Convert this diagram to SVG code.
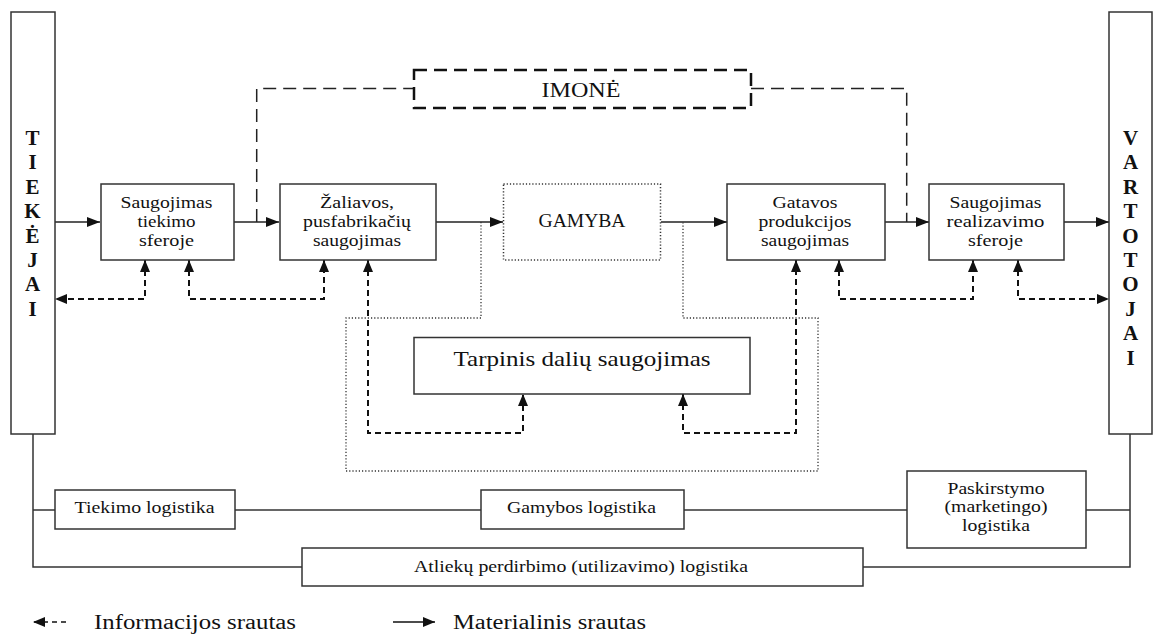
<svg xmlns="http://www.w3.org/2000/svg" width="1154" height="634" viewBox="0 0 1154 634">
<style>
  .box { fill: #fff; stroke: #333; stroke-width: 1.5; }
  .t { font-family: "Liberation Serif", "Times New Roman", Times, serif; font-size: 17.5px; fill: #111; text-anchor: middle; }
  .s { font-size: 17px; }
  .big { font-size: 21px; }
  .bar { font-family: "Liberation Serif", "Times New Roman", Times, serif; font-size: 21px; font-weight: bold; fill: #111; text-anchor: middle; }
  .leg { font-family: "Liberation Serif", "Times New Roman", Times, serif; font-size: 20px; fill: #111; }
  .flow { fill: none; stroke: #222; stroke-width: 1.5; }
  .info { fill: none; stroke: #111; stroke-width: 2; stroke-dasharray: 6 4; }
  .ctl { fill: none; stroke: #222; stroke-width: 1.5; stroke-dasharray: 13 7; }
  .dot { fill: none; stroke: #333; stroke-width: 1.3; stroke-dasharray: 1.2 2; }
  .line { fill: none; stroke: #333; stroke-width: 1.5; }
</style>
<defs>
  <marker id="ah" viewBox="0 0 13 10" refX="13" refY="5" markerWidth="13" markerHeight="10" markerUnits="userSpaceOnUse" orient="auto-start-reverse">
    <path d="M0,0 L13,5 L0,10 z" fill="#111"/>
  </marker>
  <marker id="ai" viewBox="0 0 12 10" refX="12" refY="5" markerWidth="12" markerHeight="10" markerUnits="userSpaceOnUse" orient="auto-start-reverse">
    <path d="M0,0 L12,5 L0,10 z" fill="#111"/>
  </marker>
</defs>

<g id="connectors">
  <path class="flow" d="M55,222 H100" marker-end="url(#ah)"/>
  <path class="flow" d="M234,222 H279" marker-end="url(#ah)"/>
  <path class="flow" d="M436,222 H503" marker-end="url(#ah)"/>
  <path class="flow" d="M661,222 H727" marker-end="url(#ah)"/>
  <path class="flow" d="M885,222 H929" marker-end="url(#ah)"/>
  <path class="flow" d="M1064,222 H1109" marker-end="url(#ah)"/>
  <path class="ctl" d="M256.7,222 V88.5 H414"/>
  <path class="ctl" d="M751,88.5 H906.7 V222"/>
  <path class="dot" d="M481,222 V318 H346 V471 H818 V318 H683 V222"/>
  <path class="info" d="M145,260 V299 H55" marker-start="url(#ai)" marker-end="url(#ai)"/>
  <path class="info" d="M189,260 V299 H324 V260" marker-start="url(#ai)" marker-end="url(#ai)"/>
  <path class="info" d="M368,260 V433 H523 V394" marker-start="url(#ai)" marker-end="url(#ai)"/>
  <path class="info" d="M683,394 V433 H796 V260" marker-start="url(#ai)" marker-end="url(#ai)"/>
  <path class="info" d="M839,260 V299 H973 V260" marker-start="url(#ai)" marker-end="url(#ai)"/>
  <path class="info" d="M1018,260 V299 H1109" marker-start="url(#ai)" marker-end="url(#ai)"/>
  <path class="line" d="M33,434 V567 H302"/>
  <path class="line" d="M33,510 H55"/>
  <path class="line" d="M235,510 H481"/>
  <path class="line" d="M684,510 H907"/>
  <path class="line" d="M1086,510 H1130"/>
  <path class="line" d="M1130,434 V567 H863"/>
</g>

<g id="tiekejai">
  <rect class="box" x="11" y="12" width="44" height="422"/>
  <text class="bar" x="32.5" y="145">T</text>
  <text class="bar" x="32.5" y="169.4">I</text>
  <text class="bar" x="32.5" y="193.8">E</text>
  <text class="bar" x="32.5" y="218.2">K</text>
  <text class="bar" x="32.5" y="242.6">Ė</text>
  <text class="bar" x="32.5" y="267">J</text>
  <text class="bar" x="32.5" y="291.4">A</text>
  <text class="bar" x="32.5" y="315.8">I</text>
</g>

<g id="vartotojai">
  <rect class="box" x="1109" y="12" width="43" height="422"/>
  <text class="bar" x="1130.5" y="145">V</text>
  <text class="bar" x="1130.5" y="169.4">A</text>
  <text class="bar" x="1130.5" y="193.8">R</text>
  <text class="bar" x="1130.5" y="218.2">T</text>
  <text class="bar" x="1130.5" y="242.6">O</text>
  <text class="bar" x="1130.5" y="267">T</text>
  <text class="bar" x="1130.5" y="291.4">O</text>
  <text class="bar" x="1130.5" y="315.8">J</text>
  <text class="bar" x="1130.5" y="340.2">A</text>
  <text class="bar" x="1130.5" y="364.6">I</text>
</g>

<g id="imone">
  <rect x="414" y="70" width="337" height="38" fill="#fff" stroke="#111" stroke-width="2.5" stroke-dasharray="13 7"/>
  <text class="t big" x="581" y="97" textLength="79" lengthAdjust="spacingAndGlyphs">IMONĖ</text>
</g>

<g id="saug-tiekimo">
  <rect class="box" x="101" y="184" width="133" height="76"/>
  <text class="t" x="166.5" y="208" textLength="92" lengthAdjust="spacingAndGlyphs">Saugojimas</text>
  <text class="t" x="166.5" y="227" textLength="58" lengthAdjust="spacingAndGlyphs">tiekimo</text>
  <text class="t" x="166.5" y="246" textLength="55" lengthAdjust="spacingAndGlyphs">sferoje</text>
</g>

<g id="zaliavos">
  <rect class="box" x="280" y="184" width="156" height="76"/>
  <text class="t" x="357" y="208" textLength="74" lengthAdjust="spacingAndGlyphs">Žaliavos,</text>
  <text class="t" x="357" y="227" textLength="108" lengthAdjust="spacingAndGlyphs">pusfabrikačių</text>
  <text class="t" x="357" y="246" textLength="88" lengthAdjust="spacingAndGlyphs">saugojimas</text>
</g>

<g id="gamyba">
  <rect x="503.5" y="184" width="157" height="76" fill="#fff" stroke="#333" stroke-width="1.5" stroke-dasharray="1.2 2"/>
  <text class="t" x="582" y="226.5" style="font-size:19px" textLength="87" lengthAdjust="spacingAndGlyphs">GAMYBA</text>
</g>

<g id="gatavos">
  <rect class="box" x="727" y="184" width="158" height="76"/>
  <text class="t" x="805" y="208" textLength="65" lengthAdjust="spacingAndGlyphs">Gatavos</text>
  <text class="t" x="805" y="227" textLength="93" lengthAdjust="spacingAndGlyphs">produkcijos</text>
  <text class="t" x="805" y="246" textLength="88" lengthAdjust="spacingAndGlyphs">saugojimas</text>
</g>

<g id="saug-realizavimo">
  <rect class="box" x="929" y="184" width="135" height="76"/>
  <text class="t" x="995.5" y="208" textLength="92" lengthAdjust="spacingAndGlyphs">Saugojimas</text>
  <text class="t" x="995.5" y="227" textLength="98" lengthAdjust="spacingAndGlyphs">realizavimo</text>
  <text class="t" x="995.5" y="246" textLength="55" lengthAdjust="spacingAndGlyphs">sferoje</text>
</g>

<g id="tarpinis">
  <rect class="box" x="414" y="337.5" width="336" height="56.5"/>
  <text class="t big" x="582" y="365.5" textLength="257" lengthAdjust="spacingAndGlyphs">Tarpinis dalių saugojimas</text>
</g>

<g id="tiekimo-logistika">
  <rect class="box" x="55" y="490" width="180" height="39"/>
  <text class="t s" x="144.5" y="513" textLength="140" lengthAdjust="spacingAndGlyphs">Tiekimo logistika</text>
</g>

<g id="gamybos-logistika">
  <rect class="box" x="481" y="490" width="203" height="39"/>
  <text class="t s" x="581.5" y="513" textLength="149" lengthAdjust="spacingAndGlyphs">Gamybos logistika</text>
</g>

<g id="paskirstymo-logistika">
  <rect class="box" x="907" y="471" width="179" height="77"/>
  <text class="t s" x="996" y="493.5" textLength="97" lengthAdjust="spacingAndGlyphs">Paskirstymo</text>
  <text class="t s" x="996" y="512" textLength="103" lengthAdjust="spacingAndGlyphs">(marketingo)</text>
  <text class="t s" x="996" y="530.5" textLength="68" lengthAdjust="spacingAndGlyphs">logistika</text>
</g>

<g id="atlieku-logistika">
  <rect class="box" x="302" y="548" width="561" height="38"/>
  <text class="t s" x="581" y="571.5" textLength="334" lengthAdjust="spacingAndGlyphs">Atliekų perdirbimo (utilizavimo) logistika</text>
</g>

<g id="legend">
  <path d="M66,622 H33" fill="none" stroke="#111" stroke-width="1.5" stroke-dasharray="5 4" marker-end="url(#ai)"/>
  <text class="leg" x="94" y="629" textLength="202" lengthAdjust="spacingAndGlyphs">Informacijos srautas</text>
  <path d="M393,622 H435" fill="none" stroke="#111" stroke-width="1.5" marker-end="url(#ai)"/>
  <text class="leg" x="453" y="629" textLength="193" lengthAdjust="spacingAndGlyphs">Materialinis srautas</text>
</g>
</svg>
